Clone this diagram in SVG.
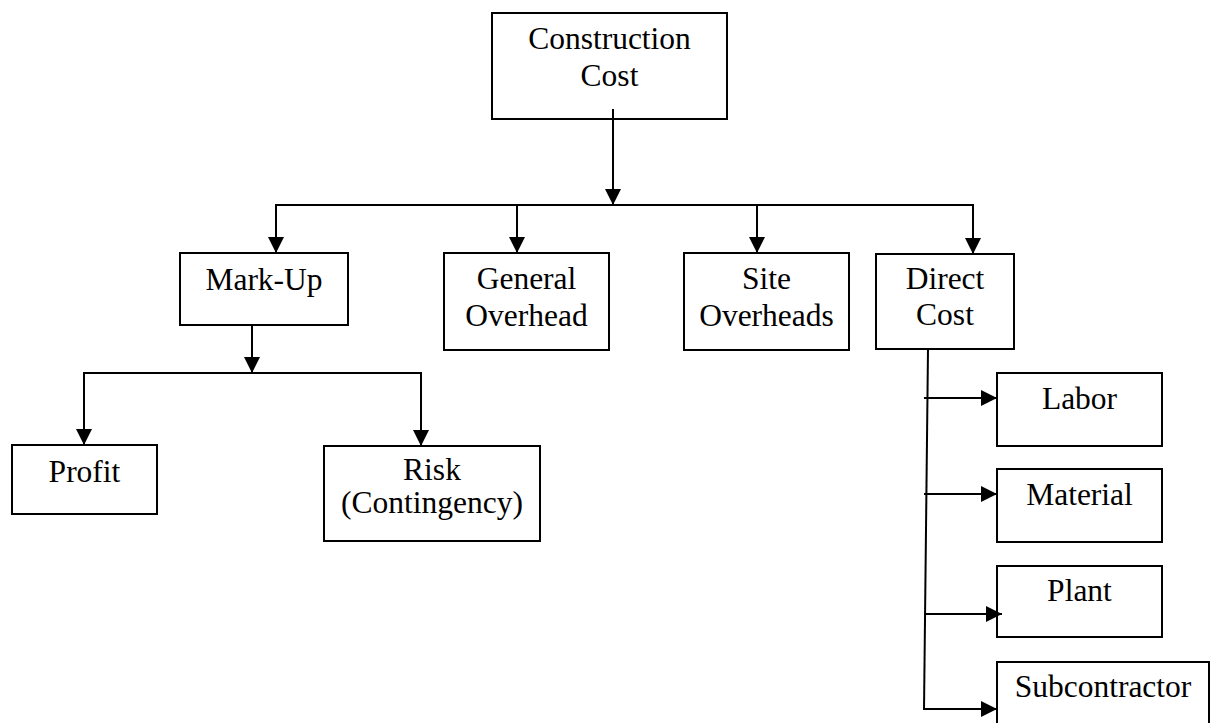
<svg xmlns="http://www.w3.org/2000/svg" width="1210" height="723" viewBox="0 0 1210 723">
<style>
.box{fill:#fff;stroke:#000;stroke-width:2}
.t{font-family:"Liberation Serif","Times New Roman",serif;font-size:31.5px;fill:#000;text-anchor:middle}
.c{fill:none;stroke:#000;stroke-width:2}
</style>
<defs>
<marker id="ah" markerUnits="userSpaceOnUse" markerWidth="16" markerHeight="16" viewBox="0 0 16 16" refX="16" refY="8" orient="auto">
<path d="M0,0 L16,8 L0,16 Z" fill="#000"/>
</marker>
</defs>
<g id="n-construction"><rect class="box" x="492" y="13" width="235" height="106"/><text class="t" x="609.5" y="49">Construction</text><text class="t" x="609.5" y="86">Cost</text></g>
<g id="n-markup"><rect class="box" x="180" y="253" width="168" height="72"/><text class="t" x="264" y="290">Mark-Up</text></g>
<g id="n-general"><rect class="box" x="444" y="253" width="165" height="97"/><text class="t" x="526.5" y="289">General</text><text class="t" x="526.5" y="326">Overhead</text></g>
<g id="n-site"><rect class="box" x="684" y="253" width="165" height="97"/><text class="t" x="766.5" y="289">Site</text><text class="t" x="766.5" y="326">Overheads</text></g>
<g id="n-direct"><rect class="box" x="876" y="254" width="138" height="95"/><text class="t" x="945" y="289">Direct</text><text class="t" x="945" y="325">Cost</text></g>
<g id="n-profit"><rect class="box" x="12" y="445" width="145" height="69"/><text class="t" x="84.5" y="482">Profit</text></g>
<g id="n-risk"><rect class="box" x="324" y="446" width="216" height="95"/><text class="t" x="432" y="480">Risk</text><text class="t" x="432" y="513">(Contingency)</text></g>
<g id="n-labor"><rect class="box" x="997" y="373" width="165" height="73"/><text class="t" x="1079.5" y="409">Labor</text></g>
<g id="n-material"><rect class="box" x="997" y="469" width="165" height="73"/><text class="t" x="1079.5" y="505">Material</text></g>
<g id="n-plant"><rect class="box" x="997" y="566" width="165" height="71"/><text class="t" x="1079.5" y="601">Plant</text></g>
<g id="n-subcontractor"><rect class="box" x="997" y="662" width="212" height="80"/><text class="t" x="1103" y="697">Subcontractor</text></g>
<g id="connectors">
<line class="c" x1="613" y1="109" x2="613" y2="205" marker-end="url(#ah)"/>
<line class="c" x1="275" y1="205" x2="974" y2="205"/>
<line class="c" x1="276" y1="205" x2="276" y2="253" marker-end="url(#ah)"/>
<line class="c" x1="517" y1="205" x2="517" y2="253" marker-end="url(#ah)"/>
<line class="c" x1="757" y1="205" x2="757" y2="253" marker-end="url(#ah)"/>
<line class="c" x1="973" y1="205" x2="973" y2="254" marker-end="url(#ah)"/>
<line class="c" x1="252" y1="325" x2="252" y2="373" marker-end="url(#ah)"/>
<line class="c" x1="83" y1="373" x2="422" y2="373"/>
<line class="c" x1="84" y1="373" x2="84" y2="445" marker-end="url(#ah)"/>
<line class="c" x1="421" y1="373" x2="421" y2="446" marker-end="url(#ah)"/>
<line class="c" x1="928" y1="349" x2="924" y2="710"/>
<line class="c" x1="924" y1="398" x2="997" y2="398" marker-end="url(#ah)"/>
<line class="c" x1="924" y1="494" x2="997" y2="494" marker-end="url(#ah)"/>
<line class="c" x1="924" y1="614" x2="1002" y2="614" marker-end="url(#ah)"/>
<line class="c" x1="923" y1="709" x2="997" y2="709" marker-end="url(#ah)"/>
</g>
</svg>
